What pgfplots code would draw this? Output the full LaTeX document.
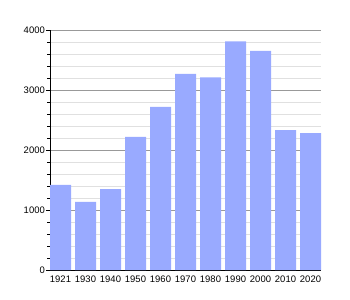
\documentclass[border=0pt]{standalone}
\usepackage{pgfplots}
\pgfplotsset{compat=1.18}
\usepackage{fontspec}
\setmainfont{Liberation Sans}
\definecolor{barblue}{HTML}{99AAFF}
\begin{document}
\begin{tikzpicture}
\begin{axis}[
  scale only axis, width=271bp, height=240bp,
  ymin=0, ymax=4000, xmin=-0.42, xmax=10.42,
  axis x line*=bottom, axis y line*=left,
  axis line style={black, line width=0.8pt},
  ybar, bar width=0.84, bar shift=0pt,
  xtick=data,
  xticklabels={1921,1930,1940,1950,1960,1970,1980,1990,2000,2010,2020},
  x tick style={draw=none},
  ytick={0,1000,2000,3000,4000}, minor y tick num=4,
  ymajorgrids, yminorgrids,
  major grid style={draw=black!40, line width=0.6pt},
  minor grid style={draw=black!12, line width=0.6pt},
  tick align=outside, major tick length=4bp, minor tick length=2.5bp,
  y tick style={black, line width=0.6pt},
  tick label style={font=\fontsize{9.5}{11}\selectfont},
  /pgf/number format/assume math mode=true,
  /pgf/number format/1000 sep={},
  yticklabel style={inner sep=1bp},
  xticklabel style={inner sep=1bp, yshift=-1bp},
]
\addplot[fill=barblue, draw=none] coordinates {
  (0,1420) (1,1135) (2,1350) (3,2218) (4,2718) (5,3268) (6,3212) (7,3812) (8,3650) (9,2333) (10,2280)
};
\end{axis}
\path (current axis.south west) ++(-50bp,-30bp) rectangle ++(350bp,300bp);
\end{tikzpicture}
\end{document}
